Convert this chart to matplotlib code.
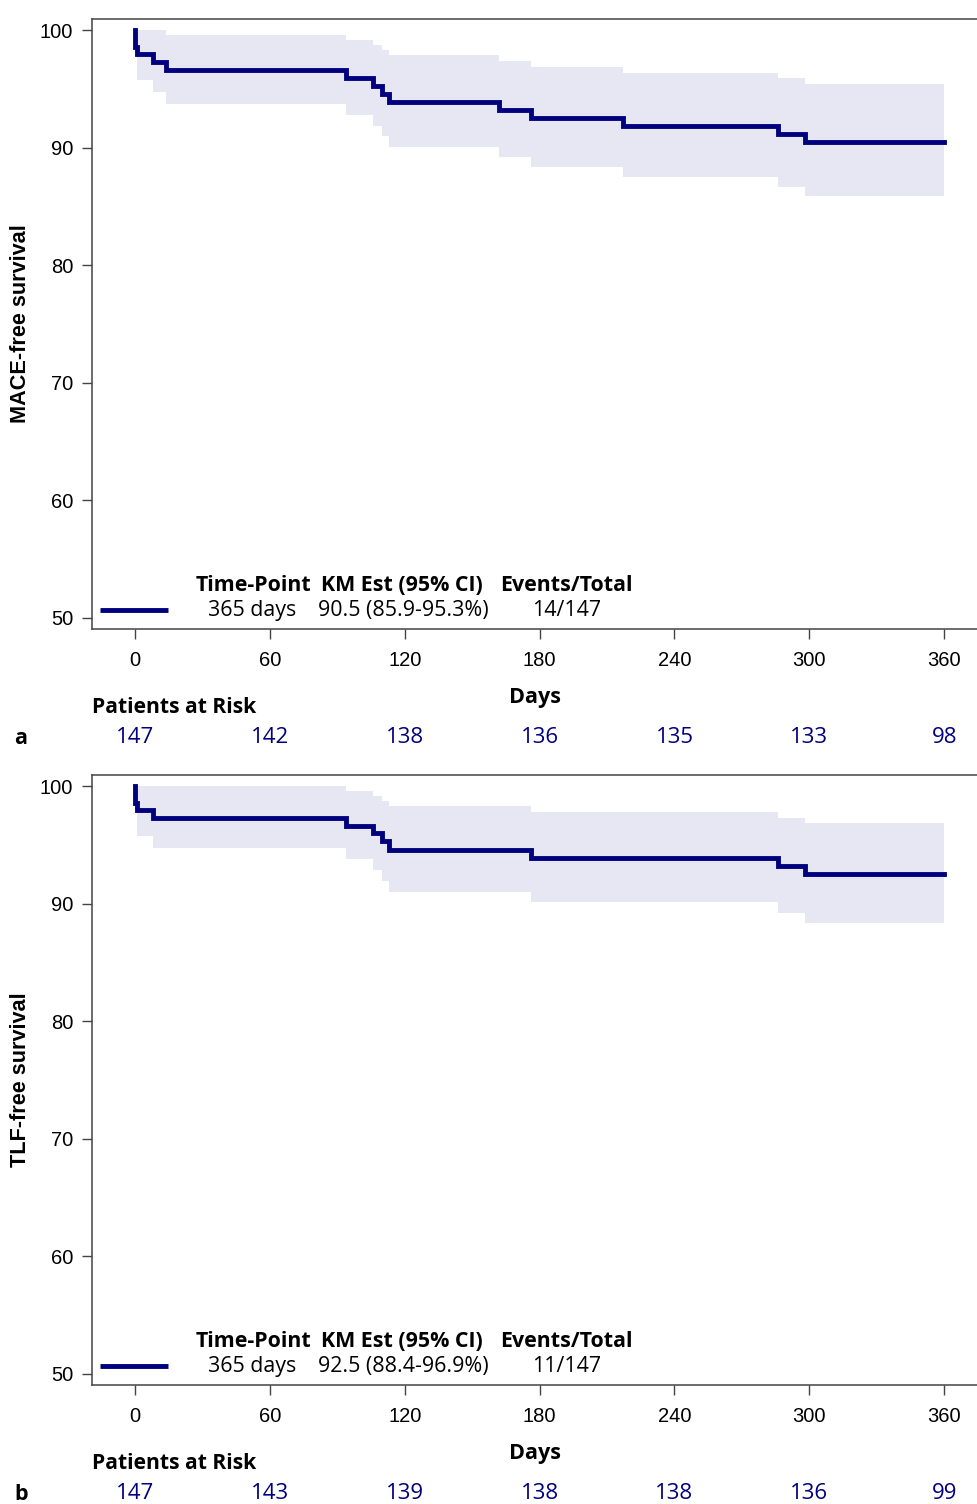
import numpy as np
import matplotlib
matplotlib.use("Agg")
import matplotlib.pyplot as plt

# Kaplan-Meier step data (days, % event-free)
mace_t = [0, 0, 1, 8, 14, 94, 106, 110, 113, 162, 176, 217, 286, 298, 360]
mace_s = [100, 98.6, 98.0, 97.3, 96.6, 95.95, 95.27, 94.6, 93.9, 93.2, 92.5, 91.84, 91.2, 90.5, 90.5]
mace_ci_t = [1, 8, 14, 94, 106, 110, 113, 162, 176, 217, 286, 298, 360]
mace_lo = [95.75, 94.7, 93.7, 92.77, 91.86, 91.0, 90.08, 89.2, 88.38, 87.53, 86.68, 85.88, 85.88]
mace_hi = [100, 100, 99.57, 99.15, 98.72, 98.3, 97.87, 97.36, 96.88, 96.37, 95.89, 95.38, 95.38]

tlf_t = [0, 0, 1, 8, 94, 106, 110, 113, 176, 286, 298, 360]
tlf_s = [100, 98.6, 98.0, 97.3, 96.6, 95.98, 95.32, 94.6, 93.9, 93.2, 92.5, 92.5]
tlf_ci_t = [1, 8, 94, 106, 110, 113, 176, 286, 298, 360]
tlf_lo = [95.75, 94.7, 93.8, 92.86, 91.95, 90.96, 90.1, 89.2, 88.37, 88.37]
tlf_hi = [100, 100, 99.57, 99.15, 98.72, 98.3, 97.8, 97.32, 96.88, 96.88]

xticks = [0, 60, 120, 180, 240, 300, 360]
yticks = [50, 60, 70, 80, 90, 100]
mace_risk = [147, 142, 138, 136, 135, 133, 98]
tlf_risk = [147, 143, 139, 138, 138, 136, 99]

panels = [
    dict(t=mace_t, s=mace_s, ct=mace_ci_t, lo=mace_lo, hi=mace_hi, risk=mace_risk,
         ylabel="MACE-free survival", letter="a",
         est="90.5 (85.9-95.3%)", ev="14/147"),
    dict(t=tlf_t, s=tlf_s, ct=tlf_ci_t, lo=tlf_lo, hi=tlf_hi, risk=tlf_risk,
         ylabel="TLF-free survival", letter="b",
         est="92.5 (88.4-96.9%)", ev="11/147"),
]

navy = "#00007F"
band = "#E7E7F3"
arial = "Liberation Sans"
segoe = "Open Sans"

W, H = 978, 1504
fig = plt.figure(figsize=(W / 100, H / 100), dpi=100)

tops = [19, 775]
for p, top in zip(panels, tops):
    left, right, bottom = 92, 978, top + 610
    ax = fig.add_axes([left / W, 1 - bottom / H, (right - left) / W, 610 / H])

    ax.fill_between(p["ct"], p["lo"], p["hi"], step="post", color=band, lw=0)
    ax.step(p["t"], p["s"], where="post", color=navy, lw=3.5, solid_joinstyle="miter")

    ax.set_xlim(-19.1, 375)
    ax.set_ylim(49.06, 100.94)
    ax.set_xticks(xticks)
    ax.set_yticks(yticks)
    ax.set_xticklabels([str(v) for v in xticks], family=arial, fontsize=14.5)
    ax.set_yticklabels([str(v) for v in yticks], family=arial, fontsize=14.5)
    ax.tick_params(axis="x", length=7.5, width=1, pad=8, color="#444")
    ax.tick_params(axis="y", length=7.5, width=1, pad=6, color="#444")
    for side in ["left", "top", "bottom"]:
        ax.spines[side].set_color("#444")
        ax.spines[side].set_linewidth(1.1)
    ax.spines["right"].set_visible(False)

    ax.set_ylabel(p["ylabel"], family=arial, fontweight="bold", fontsize=15.6)
    ax.yaxis.set_label_coords(-61 / 886, 0.5)

    ax.text(0.5, -0.112, "Days", transform=ax.transAxes, ha="center", va="center",
            family=segoe, fontweight="bold", fontsize=15.6)
    ax.text(0.0, -0.129, "Patients at Risk", transform=ax.transAxes, ha="left", va="center",
            family=segoe, fontweight="bold", fontsize=15.2)
    trans = ax.get_xaxis_transform()
    for x, n in zip(xticks, p["risk"]):
        ax.text(x, -0.178, str(n), transform=trans, ha="center", va="center",
                family=segoe, fontsize=16, color=navy, clip_on=False)
    fig.text(21 / W, 1 - (bottom + 109) / H, p["letter"], ha="center", va="center",
             family=segoe, fontweight="bold", fontsize=15.5)

    # inset legend
    ax.plot([0.009, 0.0858], [0.031, 0.031], transform=ax.transAxes, color=navy, lw=3.5,
            solid_capstyle="butt")
    hy, ry = 0.0705, 0.031
    for x, s in [(0.117, "Time-Point"), (0.259, "KM Est (95% CI)"), (0.461, "Events/Total")]:
        ax.text(x, hy, s, transform=ax.transAxes, ha="left", va="center",
                family=segoe, fontweight="bold", fontsize=15.4)
    for x, s in [(0.131, "365 days"), (0.255, p["est"]), (0.497, p["ev"])]:
        ax.text(x, ry, s, transform=ax.transAxes, ha="left", va="center",
                family=segoe, fontsize=15.4)

fig.savefig("out.png", dpi=100)
